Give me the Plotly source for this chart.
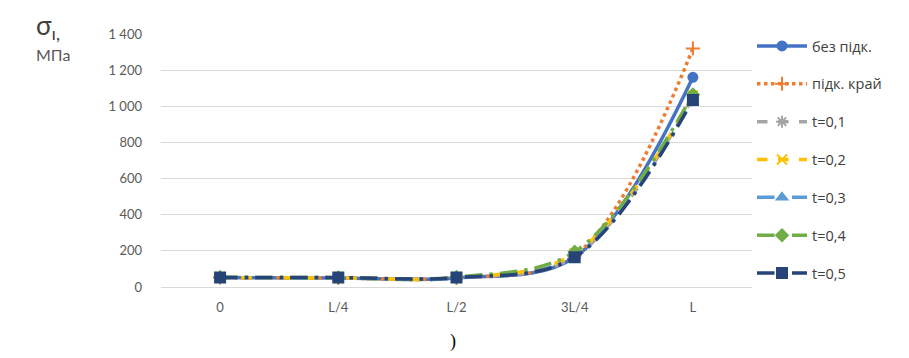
import plotly.graph_objects as go

categories = ["0", "L/4", "L/2", "3L/4", "L"]
bez_pidk = [52, 50, 50, 165, 1160]
pidk_krai = [52, 50, 50, 175, 1320]
t01 = [52, 50, 50, 170, 1050]
t02 = [52, 50, 52, 185, 1060]
t03 = [52, 50, 50, 170, 1040]
t04 = [54, 52, 55, 195, 1065]
t05 = [52, 52, 52, 165, 1035]

series_names = ["без підк.", "підк. край", "t=0,1", "t=0,2", "t=0,3", "t=0,4", "t=0,5"]
y_tickvals = [0, 200, 400, 600, 800, 1000, 1200, 1400]
y_ticktext = ["0", "200", "400", "600", "800", "1 000", "1 200", "1 400"]

styles = [
    dict(color="#4472C4", dash="solid", symbol="circle", msize=9),
    dict(color="#ED7D31", dash="dot", symbol="cross-thin-open", msize=10),
    dict(color="#A5A5A5", dash="dash", symbol="asterisk-open", msize=10),
    dict(color="#FFC000", dash="dash", symbol="x-thin-open", msize=10),
    dict(color="#5B9BD5", dash="longdashdot", symbol="triangle-up", msize=9),
    dict(color="#70AD47", dash="longdashdot", symbol="diamond", msize=9),
    dict(color="#264478", dash="longdashdot", symbol="square", msize=10),
]
data = [bez_pidk, pidk_krai, t01, t02, t03, t04, t05]

# page body has an 8px margin: figure coords = screen coords - 8
W, H = 901, 350
PL, PR, PT, PB = 153, 744, 26, 279
pw, ph = PR - PL, PB - PT

def px(xs):
    return (xs - 8 - PL) / pw

def py(ys):
    return (PB - (ys - 8)) / ph

fig = go.Figure()
for i, (name, vals, st) in enumerate(zip(series_names, data, styles)):
    fig.add_trace(go.Scatter(
        x=categories, y=vals, name=name, mode="lines+markers",
        legendgroup=f"g{i}",
        line=dict(color=st["color"], width=3.5, dash=st["dash"], shape="spline", smoothing=1),
        marker=dict(symbol=st["symbol"], size=st["msize"], color=st["color"],
                    line=dict(color=st["color"], width=2)),
    ))

font_family = "Lato, 'Liberation Sans', sans-serif"
fig.update_layout(
    width=W, height=H,
    margin=dict(l=PL, r=W - PR, t=PT, b=H - PB),
    paper_bgcolor="white", plot_bgcolor="white",
    font=dict(family=font_family, size=13, color="#595959"),
    showlegend=True,
    legend=dict(x=px(752), xanchor="left", y=py(30), yanchor="top",
                font=dict(size=14.5, color="#404040", family="'Open Sans', sans-serif"),
                itemwidth=50, tracegroupgap=16, bgcolor="rgba(0,0,0,0)",
                maxheight=340),
    xaxis=dict(type="category", range=[-0.5, 4.5], showgrid=False,
               showline=True, linecolor="#D9D9D9", linewidth=1,
               ticks="", ticklabelstandoff=8, tickfont=dict(size=13, color="#595959")),
    yaxis=dict(range=[0, 1400], tickvals=y_tickvals, ticktext=y_ticktext,
               showgrid=True, gridcolor="#D9D9D9", gridwidth=1,
               zeroline=False, showline=False, ticks="", ticklabelstandoff=18,
               tickfont=dict(size=13, color="#595959")),
)

fig.add_annotation(x=px(34), y=py(7), xref="paper", yref="paper",
                   text="σ<sub>ı,</sub>", showarrow=False,
                   font=dict(size=26, color="#404040", family=font_family),
                   xanchor="left", yanchor="top")
fig.add_annotation(x=px(34), y=py(55), xref="paper", yref="paper",
                   text="МПа", showarrow=False,
                   font=dict(size=16, color="#595959", family=font_family),
                   xanchor="left", yanchor="middle")
fig.add_annotation(x=px(453), y=py(341), xref="paper", yref="paper",
                   text=")", showarrow=False,
                   font=dict(size=18, color="#000000", family="'Liberation Serif', serif"),
                   xanchor="center", yanchor="middle")

fig.write_html("out.html")
